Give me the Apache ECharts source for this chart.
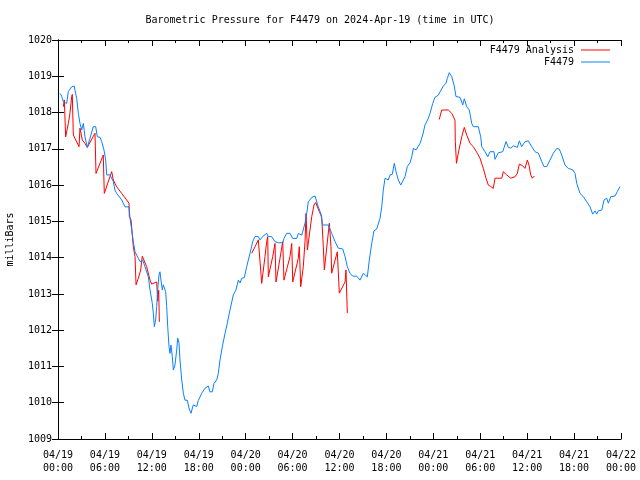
<!DOCTYPE html>
<html><head><meta charset="utf-8">
<script src="https://cdn.jsdelivr.net/npm/echarts@6/dist/echarts.min.js"></script>
<style>html,body{margin:0;padding:0;background:#fff}#c{width:640px;height:480px}</style>
</head><body><div id="c"></div>
<script>
var titleText = "Barometric Pressure for F4479 on 2024-Apr-19 (time in UTC)";
var seriesNames = ["F4479 Analysis", "F4479"];
var tickLabels = ["04/19\n00:00","04/19\n06:00","04/19\n12:00","04/19\n18:00","04/20\n00:00","04/20\n06:00","04/20\n12:00","04/20\n18:00","04/21\n00:00","04/21\n06:00","04/21\n12:00","04/21\n18:00","04/22\n00:00"];

// hours since 2024-04-19 00:00 UTC
var stationT = [0.26,0.47,0.68,1.11,1.32,1.75,2.08,2.17,2.39,2.60,2.81,3.03,3.24,3.45,3.75,4.09,4.51,4.82,5.03,5.37,5.59,5.88,6.10,6.23,6.65,7.07,7.29,7.51,7.71,8.15,8.57,9.08,9.21,9.43,9.63,9.85,10.27,10.49,10.83,11.13,11.55,11.77,12.06,12.19,12.32,12.49,12.62,12.75,12.92,13.04,13.17,13.34,13.47,13.59,13.77,13.90,14.03,14.20,14.32,14.45,14.62,14.75,14.96,15.18,15.31,15.48,15.60,15.82,16.03,16.24,16.54,16.75,17.01,17.30,17.74,17.94,18.38,18.80,19.22,19.44,19.73,19.95,20.30,20.50,20.72,21.01,21.36,21.65,21.91,22.42,22.76,23.06,23.28,23.49,23.83,24.13,24.56,24.90,25.19,25.62,25.83,26.26,26.69,26.90,27.33,27.75,28.18,28.74,28.90,29.25,29.67,30.02,30.53,30.73,31.17,31.59,31.81,32.01,32.45,32.87,33.09,33.29,33.60,33.85,34.57,35.00,35.43,35.85,36.41,36.71,37.00,37.34,37.69,38.20,38.62,39.05,39.26,39.56,39.81,40.12,40.41,40.76,41.18,41.40,41.60,41.82,42.24,42.46,42.75,43.01,43.23,43.52,43.83,44.08,44.38,44.67,45.02,45.24,45.44,45.66,45.79,45.95,46.30,46.64,46.94,47.36,47.58,47.92,48.21,48.64,48.86,49.28,49.62,49.79,50.04,50.35,50.65,50.90,51.41,51.76,51.96,52.27,52.47,52.60,52.91,53.11,53.75,54.06,54.19,54.61,54.96,55.25,55.76,55.89,56.31,56.87,57.30,57.59,57.90,58.24,58.75,59.00,59.30,59.73,60.15,60.58,61.00,61.43,61.86,62.16,62.50,62.92,63.35,63.78,64.11,64.42,64.84,65.26,65.83,66.12,66.34,66.76,67.18,67.62,68.04,68.38,68.68,68.89,69.10,69.54,69.83,70.17,70.38,70.69,71.24,71.53,71.88];
var stationV = [1018.53,1018.45,1018.30,1018.25,1018.58,1018.71,1018.73,1018.62,1018.39,1017.98,1017.70,1017.52,1017.70,1017.33,1017.04,1017.29,1017.61,1017.61,1017.33,1017.32,1017.20,1016.97,1016.69,1016.28,1016.28,1016.10,1015.86,1015.77,1015.73,1015.59,1015.40,1015.40,1015.08,1014.76,1014.44,1014.16,1013.98,1013.89,1013.93,1013.75,1013.47,1013.11,1012.74,1012.47,1012.10,1012.28,1012.65,1013.11,1013.52,1013.61,1013.38,1013.11,1013.25,1013.29,1013.06,1012.65,1012.10,1011.54,1011.36,1011.59,1011.27,1010.90,1011.04,1011.45,1011.78,1011.64,1011.18,1010.63,1010.26,1010.07,1010.07,1009.85,1009.71,1009.94,1009.89,1010.06,1010.26,1010.40,1010.46,1010.30,1010.30,1010.53,1010.63,1010.81,1011.18,1011.54,1011.91,1012.19,1012.47,1012.97,1013.11,1013.38,1013.30,1013.43,1013.45,1013.75,1014.12,1014.44,1014.58,1014.58,1014.49,1014.60,1014.67,1014.58,1014.58,1014.44,1014.41,1014.41,1014.53,1014.67,1014.67,1014.53,1014.53,1014.67,1014.62,1014.95,1015.22,1015.54,1015.66,1015.70,1015.68,1015.40,1015.22,1014.90,1014.90,1014.67,1014.44,1014.26,1014.24,1014.03,1013.75,1013.57,1013.49,1013.49,1013.38,1013.57,1013.52,1013.47,1013.93,1014.39,1014.74,1014.79,1015.08,1015.40,1015.86,1016.19,1016.14,1016.28,1016.30,1016.60,1016.37,1016.14,1016.00,1016.00,1016.23,1016.51,1016.62,1016.78,1017.01,1017.06,1016.97,1017.01,1017.15,1017.38,1017.66,1017.84,1017.98,1018.25,1018.42,1018.48,1018.57,1018.73,1018.81,1018.94,1019.10,1018.99,1018.76,1018.44,1018.42,1018.21,1018.38,1018.16,1018.16,1018.07,1017.70,1017.61,1017.61,1017.33,1017.06,1016.92,1016.78,1016.92,1016.92,1016.71,1016.89,1016.92,1017.20,1017.04,1017.02,1017.08,1017.04,1017.22,1017.06,1017.20,1017.22,1017.06,1016.92,1016.88,1016.65,1016.51,1016.51,1016.69,1016.88,1017.01,1016.99,1016.83,1016.55,1016.46,1016.42,1016.32,1016.05,1015.77,1015.68,1015.54,1015.40,1015.20,1015.29,1015.20,1015.29,1015.31,1015.59,1015.64,1015.50,1015.68,1015.70,1015.82,1015.96];

// analysis; null marks a gap between runs
var analysisT = [0.68,0.81,0.98,1.32,1.53,1.75,1.83,1.96,2.69,2.81,3.03,3.11,3.45,3.75,4.73,4.86,5.79,5.92,6.87,7.07,7.51,8.15,8.78,9.08,9.12,9.34,9.63,9.85,9.98,10.27,10.58,10.78,10.91,11.34,11.77,11.98,12.62,12.75,12.88,12.96,
  18.0,
  24.77,25.19,25.62,25.74,25.92,26.05,26.47,26.69,26.82,26.90,27.46,27.75,27.88,28.39,28.74,28.90,29.67,29.89,30.02,30.73,30.86,31.04,31.37,31.59,31.72,31.89,32.45,32.74,32.96,33.42,33.72,33.93,34.06,34.70,34.91,35.00,35.72,35.98,36.71,36.83,37.00,
  43.0,
  48.76,49.07,49.92,50.04,50.35,50.77,50.81,50.96,51.19,51.63,51.96,52.27,52.69,53.11,53.62,53.97,54.39,54.74,55.03,55.34,55.67,55.89,56.75,56.95,57.39,57.90,58.45,58.74,59.00,59.43,59.73,60.02,60.24,60.45,60.66,60.92];
var analysisV = [1018.16,1018.35,1017.33,1017.70,1017.98,1018.44,1018.50,1017.38,1017.06,1017.57,1017.57,1017.24,1017.15,1017.04,1017.43,1016.32,1016.83,1015.77,1016.37,1016.14,1015.95,1015.77,1015.59,1015.50,1015.13,1015.04,1014.30,1014.03,1013.25,1013.43,1013.66,1014.04,1014.04,1013.75,1013.38,1013.27,1013.33,1012.80,1013.10,1012.23,
  null,
  1014.12,1014.30,1014.49,1014.53,1013.66,1013.29,1014.03,1014.44,1014.58,1013.47,1014.03,1014.39,1013.33,1013.98,1014.44,1013.38,1014.03,1014.39,1013.33,1013.98,1014.30,1013.20,1013.75,1014.44,1015.22,1014.21,1015.13,1015.45,1015.52,1015.27,1015.13,1014.30,1013.66,1014.95,1014.30,1013.57,1014.16,1013.02,1013.33,1013.66,1012.47,
  null,
  1017.81,1018.07,1018.07,1018.12,1017.98,1017.79,1017.20,1016.60,1016.88,1017.33,1017.59,1017.38,1017.15,1017.06,1016.88,1016.74,1016.46,1016.19,1016.00,1015.96,1015.91,1016.19,1016.19,1016.37,1016.28,1016.19,1016.23,1016.32,1016.58,1016.53,1016.46,1016.69,1016.55,1016.28,1016.19,1016.25];

function zip(t, v){ var out=[]; for (var i=0;i<t.length;i++) out.push([t[i], v[i]]); return out; }

var FONT = "DejaVu Sans Mono";
var chart = echarts.init(document.getElementById('c'), null, {renderer:'canvas'});
var axisCommon = {
  axisLine:{show:true, lineStyle:{color:'#000', width:1}},
  splitLine:{show:false}
};
function legendOf(name, top){
  return {data:[{name:name, icon:'rect'}], top:top, right:30, orient:'vertical', align:'right',
    itemWidth:29, itemHeight:1, itemGap:0, padding:0,
    textStyle:{fontFamily:FONT, fontSize:10, color:'#000', padding:[0,2,0,0]}};
}
chart.setOption({
  animation:false,
  backgroundColor:'#fff',
  textStyle:{fontFamily:FONT, color:'#000'},
  title:{text:titleText, left:'center', top:10, textStyle:{fontFamily:FONT, fontSize:10, fontWeight:'normal', color:'#000'}},
  grid:{left:58, right:19, top:40, bottom:41, containLabel:false, outerBoundsMode:'none'},
  legend:[ legendOf(seriesNames[0], 45), legendOf(seriesNames[1], 57) ],
  xAxis:[
    Object.assign({type:'value', position:'bottom', min:0, max:72, interval:6,
      axisTick:{show:true, inside:true, length:6, lineStyle:{color:'#000'}},
      minorTick:{show:true, splitNumber:2, length:3, lineStyle:{color:'#000'}},
      axisLabel:{show:true, margin:10, fontFamily:FONT, fontSize:10, lineHeight:13, color:'#000',
        formatter:function(v){ return tickLabels[Math.round(v/6)]; }}
    }, axisCommon),
    Object.assign({type:'value', position:'top', min:0, max:72, interval:6,
      axisTick:{show:true, inside:true, length:6, lineStyle:{color:'#000'}},
      minorTick:{show:true, splitNumber:2, length:3, lineStyle:{color:'#000'}},
      axisLabel:{show:false}
    }, axisCommon)
  ],
  yAxis:[
    Object.assign({type:'value', position:'left', min:1009, max:1020, interval:1,
      name:'milliBars', nameLocation:'middle', nameRotate:90, nameGap:43,
      nameTextStyle:{fontFamily:FONT, fontSize:10, color:'#000'},
      axisTick:{show:true, inside:true, length:6, lineStyle:{color:'#000'}},
      axisLabel:{show:true, margin:6, fontFamily:FONT, fontSize:10, color:'#000',
        formatter:function(v){ return String(v); }}
    }, axisCommon),
    Object.assign({type:'value', position:'right', min:1009, max:1020, interval:1,
      axisTick:{show:true, inside:true, length:6, lineStyle:{color:'#000'}},
      axisLabel:{show:false}
    }, axisCommon)
  ],
  series:[
    {name:seriesNames[0], type:'line', data:zip(analysisT, analysisV), symbol:'none', connectNulls:false,
     lineStyle:{color:'#ff0000', width:1}, itemStyle:{color:'#ff0000'}},
    {name:seriesNames[1], type:'line', data:zip(stationT, stationV), symbol:'none',
     lineStyle:{color:'#0a80ff', width:1}, itemStyle:{color:'#0a80ff'}}
  ]
});
</script></body></html>
